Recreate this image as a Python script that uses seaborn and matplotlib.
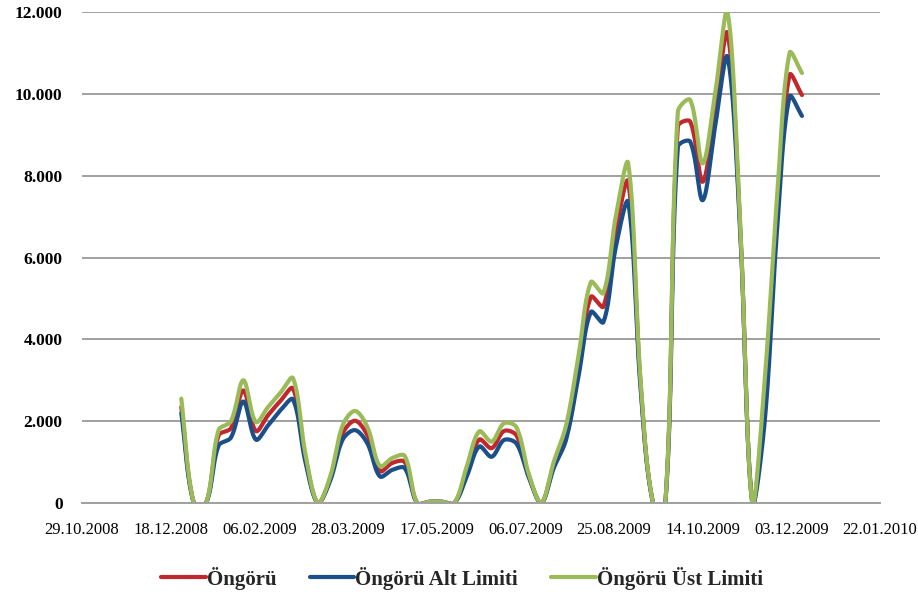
import numpy as np
import pandas as pd
import matplotlib
matplotlib.use("Agg")
import matplotlib.pyplot as plt
import matplotlib.dates as mdates
from matplotlib.lines import Line2D
import seaborn as sns

# ---------------- data (weekly) ----------------
start_date = "2008-12-24"
n_weeks = 51
ongoru = [2350, 0, 0, 1650, 1830, 2750, 1760, 2150, 2500, 2800,
          1100, 0, 600, 1700, 2010, 1650, 780, 980, 1000, 0,
          30, 30, 0, 780, 1550, 1340, 1760, 1650, 660, 0,
          920, 1750, 3350, 5040, 4800, 6650, 7850, 2900, 0, 0,
          9200, 9320, 7850, 9600, 11480, 6900, 0, 2500, 7100, 10460,
          9970]
alt_limit = [2200, 0, 0, 1400, 1600, 2480, 1550, 1900, 2270, 2530,
             1000, 0, 550, 1550, 1780, 1450, 650, 810, 850, 0,
             30, 30, 0, 650, 1380, 1130, 1540, 1450, 620, 0,
             850, 1550, 3100, 4670, 4420, 6250, 7350, 2800, 0, 0,
             8700, 8830, 7400, 9200, 10900, 6800, 0, 2000, 6700, 9930,
             9460]
ust_limit = [2550, 0, 0, 1780, 2000, 3000, 1980, 2350, 2700, 3050,
             1200, 0, 650, 1900, 2250, 1850, 900, 1100, 1150, 0,
             30, 30, 0, 900, 1750, 1500, 1950, 1850, 700, 0,
             1000, 1900, 3600, 5400, 5130, 7000, 8300, 3000, 0, 0,
             9560, 9850, 8300, 10000, 12000, 7000, 0, 3000, 7500, 11000,
             10510]
series_names = ["Öngörü", "Öngörü Alt Limiti", "Öngörü Üst Limiti"]
series_values = [ongoru, alt_limit, ust_limit]
tick_start = "2008-10-29"
tick_end = "2010-01-22"
y_ticks = [0, 2000, 4000, 6000, 8000, 10000, 12000]
y_tick_labels = ["0", "2.000", "4.000", "6.000", "8.000", "10.000", "12.000"]

colors = {"Öngörü": "#C0282D", "Öngörü Alt Limiti": "#1B4F8A",
          "Öngörü Üst Limiti": "#9BBB59"}

dates = pd.date_range(start_date, periods=n_weeks, freq="7D")
xnum = mdates.date2num(dates.to_pydatetime())

# pixel scale of the plot area (used only for the smoothing weights)
PX_PER_DAY = (880 - 82) / 450.0
PX_PER_UNIT = (503 - 12) / 12000.0


def smooth(x, y, n=30):
    """Excel-like smoothed line: Bezier segments whose control
    distances are weighted by neighbouring segment lengths on screen."""
    P = np.column_stack([np.asarray(x, float) * PX_PER_DAY,
                         np.asarray(y, float) * PX_PER_UNIT])
    Pp = np.vstack([P[0], P, P[-1]])
    t = np.linspace(0, 1, n, endpoint=False)[:, None]
    out = []
    for i in range(len(P) - 1):
        p0, p1, p2, p3 = Pp[i], Pp[i + 1], Pp[i + 2], Pp[i + 3]
        d01 = np.hypot(*(p1 - p0))
        d12 = np.hypot(*(p2 - p1))
        d23 = np.hypot(*(p3 - p2))
        f1 = d12 / (3.0 * (d01 + d12)) if (d01 + d12) > 0 else 0
        f2 = d12 / (3.0 * (d12 + d23)) if (d12 + d23) > 0 else 0
        b1 = p1 + (p2 - p0) * f1
        b2 = p2 - (p3 - p1) * f2
        seg = ((1 - t) ** 3) * p1 + 3 * ((1 - t) ** 2) * t * b1 + \
            3 * (1 - t) * t ** 2 * b2 + t ** 3 * p2
        out.append(seg)
    out.append(P[-1][None, :])
    out = np.vstack(out)
    return out[:, 0] / PX_PER_DAY, out[:, 1] / PX_PER_UNIT


frames = []
for name, vals in zip(series_names, series_values):
    sx, sy = smooth(xnum, vals)
    frames.append(pd.DataFrame({"x": sx, "y": sy, "series": name}))
df = pd.concat(frames, ignore_index=True)

sns.set_theme(style="white")
plt.rcParams["font.family"] = ["Liberation Serif", "DejaVu Serif"]

fig = plt.figure(figsize=(9.18, 5.98), dpi=100)
ax = fig.add_axes([82 / 918, 1 - 503 / 598, (880 - 82) / 918, (503 - 12) / 598])

sns.lineplot(data=df, x="x", y="y", hue="series", hue_order=series_names,
             palette=colors, estimator=None, sort=False, units="series",
             linewidth=3.0, ax=ax, legend=False)

x0 = mdates.date2num(pd.Timestamp(tick_start).to_pydatetime())
x1 = mdates.date2num(pd.Timestamp(tick_end).to_pydatetime())
ax.set_xlim(x0, x1)
ax.set_ylim(0, 12000)
ax.set_xticks(np.arange(x0, x1 + 1, 50))
ax.xaxis.set_major_formatter(mdates.DateFormatter("%d.%m.%Y"))
ax.set_yticks(y_ticks)
ax.set_yticklabels(y_tick_labels)
for lab in ax.get_yticklabels():
    lab.set_fontweight("bold")
    lab.set_fontsize(12.5)
for lab in ax.get_xticklabels():
    lab.set_fontsize(12)
ax.tick_params(axis="y", length=0, pad=14, colors="black")
ax.tick_params(axis="x", length=0, pad=14, colors="black")
ax.set_xlabel("")
ax.set_ylabel("")

ax.grid(axis="y", color="#A0A0A0", linewidth=1.4)
ax.grid(axis="x", visible=False)
ax.set_axisbelow(True)
for s in ["top", "right", "left"]:
    ax.spines[s].set_visible(False)
ax.spines["bottom"].set_color("#A0A0A0")
ax.spines["bottom"].set_linewidth(1.4)

handles = [Line2D([0], [0], color=colors[n], lw=3.0) for n in series_names]
fig.legend(handles, series_names, loc="center", bbox_to_anchor=(462 / 918, 1 - 578 / 598),
           ncol=3, frameon=False, handlelength=2.15, handletextpad=0.05,
           columnspacing=1.6,
           prop={"family": "Liberation Serif", "weight": "bold", "size": 15})

fig.savefig("out.png", dpi=100)
